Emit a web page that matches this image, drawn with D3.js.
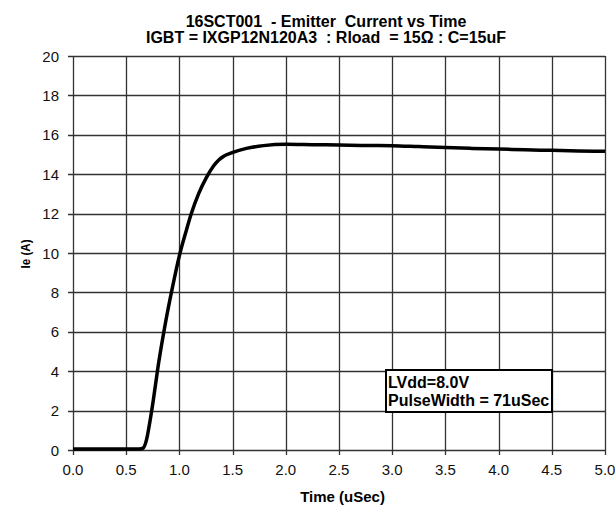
<!DOCTYPE html>
<html><head><meta charset="utf-8">
<script src="https://cdn.jsdelivr.net/npm/d3@7"></script>
<style>body{margin:0;background:#fff}svg{display:block}text{font-family:"Liberation Sans",Arial,sans-serif}</style>
</head><body><svg id="c" width="615" height="508"></svg>
<script>
const titleLines = ["16SCT001  - Emitter  Current vs Time", "IGBT = IXGP12N120A3  : Rload  = 15\u03A9 : C=15uF"];
const xLabel = "Time (uSec)";
const yLabel = "Ie (A)";
const legendLines = ["LVdd=8.0V", "PulseWidth = 71uSec"];
const xTicks = [0,0.5,1,1.5,2,2.5,3,3.5,4,4.5,5];
const yTicks = [0,2,4,6,8,10,12,14,16,18,20];
const time = [0,0.1,0.2,0.3,0.4,0.5,0.6,0.64,0.66,0.69,0.72,0.755,0.80,0.849,0.874,0.927,1.006,1.06,1.109,1.18,1.256,1.319,1.37,1.413,1.49,1.63,1.79,2.0,2.25,2.5,2.75,3.0,3.25,3.5,3.75,4.0,4.25,4.5,4.75,5.0];
const current = [0.05,0.05,0.05,0.05,0.05,0.05,0.05,0.06,0.1,0.5,1.35,2.54,4.25,5.85,6.6,8.05,10.0,11.05,11.95,13.0,13.85,14.4,14.72,14.9,15.08,15.31,15.45,15.52,15.5,15.48,15.46,15.45,15.4,15.35,15.31,15.28,15.24,15.21,15.18,15.16];

const svg = d3.select("#c");
const m = {l:73, r:605, t:56, b:450};
const x = d3.scaleLinear().domain([0,5]).range([m.l, m.r]);
const y = d3.scaleLinear().domain([0,20]).range([m.b, m.t]);

// grid
const g = svg.append("g");
g.selectAll(".vx").data(xTicks).join("line")
  .attr("x1", d=>Math.round(x(d))+0.5).attr("x2", d=>Math.round(x(d))+0.5)
  .attr("y1", m.t).attr("y2", m.b+5).attr("stroke","#333").attr("stroke-width",1.3);
g.selectAll(".hy").data(yTicks).join("line")
  .attr("y1", d=>Math.round(y(d))+0.5).attr("y2", d=>Math.round(y(d))+0.5)
  .attr("x1", m.l-5).attr("x2", m.r).attr("stroke","#333").attr("stroke-width",1.3);

// tick labels
svg.selectAll(".xl").data(xTicks).join("text")
  .attr("x", d=>x(d)).attr("y", 475).attr("text-anchor","middle")
  .attr("font-size",15).attr("fill","#111").text(d=>d3.format(".1f")(d));
svg.selectAll(".yl").data(yTicks).join("text")
  .attr("x", 59).attr("y", d=>y(d)+5.5).attr("text-anchor","end")
  .attr("font-size",15).attr("fill","#111").text(d=>d);

// curve
const line = d3.line().x((d,i)=>x(time[i])).y(d=>y(d)).curve(d3.curveMonotoneX);
svg.append("path").datum(current).attr("d", line).attr("fill","none")
  .attr("stroke","#000").attr("stroke-width",3.5).attr("stroke-linejoin","round");

// title
svg.selectAll(".tt").data(titleLines).join("text")
  .attr("x", 326).attr("y", (d,i)=>26.5+i*16.5).attr("text-anchor","middle")
  .attr("font-size",16).attr("font-weight","bold").attr("xml:space","preserve")
  .style("white-space","pre").text(d=>d);

// axis labels
svg.append("text").attr("x",342.5).attr("y",502).attr("text-anchor","middle")
  .attr("font-size",15).attr("font-weight","bold").text(xLabel);
svg.append("text").attr("transform","translate(29.5,254) rotate(-90)").attr("text-anchor","middle")
  .attr("font-size",13).attr("font-weight","bold")
  .attr("textLength",29).attr("lengthAdjust","spacingAndGlyphs").text(yLabel);

// legend box
svg.append("rect").attr("x",386).attr("y",370).attr("width",166).attr("height",42)
  .attr("fill","#fff").attr("stroke","#000").attr("stroke-width",2);
svg.selectAll(".lg").data(legendLines).join("text")
  .attr("x",388).attr("y",(d,i)=>388+i*17.5).attr("font-size",16).attr("font-weight","bold").text(d=>d);
</script></body></html>
